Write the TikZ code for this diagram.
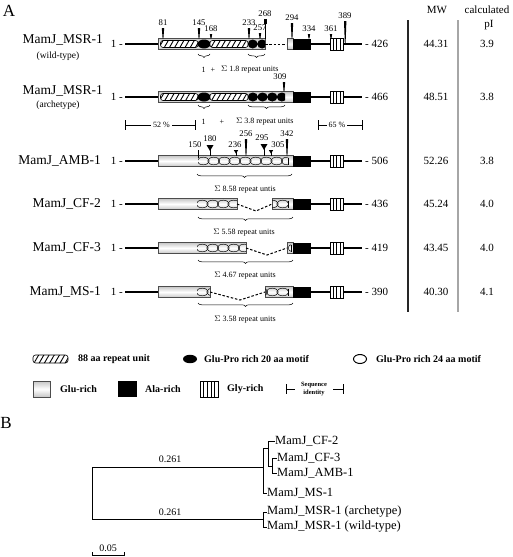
\documentclass[tikz,border=0pt]{standalone}
\usepackage{fontspec}
\setmainfont{Liberation Serif}
\usetikzlibrary{patterns.meta,decorations.pathreplacing}

\tikzset{
  gluseg/.style={draw=gray!60!black,line width=0.8pt,top color=gray!45,bottom color=gray!45,middle color=white},
  repunit/.style={draw=black,line width=0.6pt,rounded corners=2.5pt,preaction={fill=white},
    pattern={Lines[angle=60,distance=4.5pt,line width=0.9pt]}},
  emot/.style={draw=black,line width=0.5pt},
  gapline/.style={line width=1pt,dash pattern=on 2.5pt off 1.8pt},
  backbone/.style={line width=1.8pt},
  rbrace/.style={decorate,decoration={brace,mirror,amplitude=3.5pt},line width=0.5pt},
  tick/.style={font=\fontsize{8.7}{8.7}\selectfont,inner sep=0pt},
  pname/.style={font=\fontsize{13.5}{14}\selectfont,inner sep=0pt,anchor=east},
  psub/.style={font=\fontsize{9.5}{10}\selectfont,inner sep=0pt},
  val/.style={font=\fontsize{11}{11}\selectfont,inner sep=0pt},
  btext/.style={font=\fontsize{8}{8}\selectfont,inner sep=0pt},
  legtext/.style={font=\bfseries\fontsize{10}{10}\selectfont,inner sep=0pt,anchor=west},
  leaf/.style={font=\fontsize{12.5}{12.5}\selectfont,inner sep=0pt,anchor=west},
  tree/.style={line width=0.8pt},
  panel/.style={font=\fontsize{17}{17}\selectfont,inner sep=0pt}
}

\begin{document}
\begin{tikzpicture}[x=1pt,y=-1pt]
  \useasboundingbox (0,0) rectangle (512,557);

  % panel letters
  \node[panel] (pA) at (9,11) {A};
  \node[panel] (pB) at (6,423) {B};

  % protein names
  \node[pname] (n1) at (103,40) {MamJ\_MSR-1};
  \node[psub] (s1) at (58,56) {(wild-type)};
  \node[pname] (n2) at (103,91) {MamJ\_MSR-1};
  \node[psub] (s2) at (58,105) {(archetype)};
  \node[pname] (n3) at (101,161) {MamJ\_AMB-1};
  \node[pname] (n4) at (101,204) {MamJ\_CF-2};
  \node[pname] (n5) at (101,248) {MamJ\_CF-3};
  \node[pname] (n6) at (101,292) {MamJ\_MS-1};

  % MamJ_MSR-1 wild-type
  \draw[gluseg] (158,38.5) rectangle (265,49.5);
  \draw[repunit] (160.5,40.5) rectangle (198,47.5);
  \fill (204,44) ellipse (6.5 and 4.5);
  \draw[repunit] (210,40.5) rectangle (248,47.5);
  \begin{scope}
    \clip (248,39) rectangle (265,49);
    \foreach \i in {0,1} \fill (252.7+9.4*\i,44) ellipse (5 and 4.5);
  \end{scope}
  \draw[gapline] (265,44) -- (287,44);
  \draw[gluseg] (287,38.5) rectangle (293,49.5);
  \foreach \x/\t/\l [count=\k] in {163/28/81, 199/28/145, 211/34/168, 249/28/233, 260/33/257, 292/23/294, 309/34/334, 331/34/361}
  {
    \fill (\x-1.2,\t) -- (\x+1.2,\t) -- (\x+0.4,38.5) -- (\x-0.4,38.5) -- cycle;
    \node[tick] (wt\k) at (\x,\t-5) {\l};
  }
  \fill (344,21) -- (346.4,21) -- (345.6,43) -- (344.8,43) -- cycle;
  \node[tick] (wt389) at (345,16) {389};
  \fill (263.8,19) rectangle (266.6,24);
  \draw[line width=0.5pt] (265.2,24) -- (265.2,38.5);
  \node[tick] (wt268) at (265,13.5) {268};
  \draw[rbrace] (198,54) -- (210,54);
  \draw[rbrace] (248,54) -- (265,54);
  \node[btext] (u1a) at (203.5,70) {1};
  \node[btext] (u1b) at (213,70) {+};
  \node[btext,anchor=west] (u1c) at (221,70) {$\Sigma$ 1.8 repeat units};

  % MamJ_MSR-1 archetype
  \draw[gluseg] (158,91.5) rectangle (293,102.5);
  \draw[repunit] (160.5,93.5) rectangle (198,100.5);
  \fill (204,97) ellipse (6.5 and 4.5);
  \draw[repunit] (210,93.5) rectangle (248,100.5);
  \begin{scope}
    \clip (248,92) rectangle (285,102);
    \foreach \i in {0,...,3} \fill (252.85+9.7*\i,97) ellipse (5.2 and 4.5);
  \end{scope}
  \fill (282.8,82) -- (285.2,82) -- (284.4,91.5) -- (283.6,91.5) -- cycle;
  \node[tick] (ar309) at (280,77) {309};
  \draw[rbrace] (198,105) -- (210,105);
  \draw[rbrace] (248,105) -- (285,105);
  \node[btext] (u2a) at (203.5,122) {1};
  \node[btext] (u2b) at (222,122) {+};
  \node[btext,anchor=west] (u2c) at (236,122) {$\Sigma$ 3.8 repeat units};

  % sequence identity
  \draw[line width=0.6pt] (125,120) -- (125,130);
  \draw[line width=0.6pt] (125,125) -- (151,125);
  \node[btext] (id52) at (161.5,125) {52 \%};
  \draw[line width=0.6pt] (172,125) -- (195,125);
  \draw[line width=0.6pt] (195,120) -- (195,130);
  \draw[line width=0.6pt] (318,120) -- (318,130);
  \draw[line width=0.6pt] (318,125) -- (327,125);
  \node[btext] (id65) at (337,125) {65 \%};
  \draw[line width=0.6pt] (347,125) -- (362,125);
  \draw[line width=0.6pt] (362,120) -- (362,130);

  % MamJ_AMB-1
  \draw[gluseg] (158,155.5) rectangle (293,166.5);
  \begin{scope}
    \clip (198,156) rectangle (288,166);
    \foreach \i in {0,...,8} \draw[emot] (203.25+10.5*\i,161) ellipse (6 and 3.8);
  \end{scope}
  \draw[emot] (288,157.5) -- (288,164.5);
  \foreach \x/\t/\l [count=\k] in {246/139/256, 287/139/342}
  {
    \fill (\x-1.2,\t) -- (\x+1.2,\t) -- (\x+0.4,155.5) -- (\x-0.4,155.5) -- cycle;
    \node[tick] (amb\k) at (\x,\t-5) {\l};
  }
  \draw[line width=0.8pt] (198,150) -- (198,158);
  \node[tick] (amb150) at (195,145) {150};
  \foreach \x/\t/\w/\l/\lx/\ly [count=\k] in {210/145/3.5/180/210/139, 264/144/3.5/295/262/137.5, 236/150/2.2/236/235/145, 271/150/2.2/305/278/144.5}
  {
    \fill (\x-\w,\t) -- (\x+\w,\t) -- (\x,\t+1.7*\w) -- cycle;
    \draw[line width=0.5pt] (\x,\t) -- (\x,155.5);
    \node[tick] (tri\k) at (\lx,\ly) {\l};
  }
  \draw[rbrace] (197,174) -- (292,174);
  \node[btext] (u3) at (245,190) {$\Sigma$ 8.58 repeat untis};

  % MamJ_CF-2
  \draw[gluseg] (158,198.5) rectangle (237,209.5);
  \begin{scope}
    \clip (197,199) rectangle (237,209);
    \foreach \i in {0,...,3} \draw[emot] (202.25+10.5*\i,204) ellipse (6 and 3.8);
  \end{scope}
  \draw[gapline] (237,204) -- (256,211) -- (272,204);
  \draw[gluseg] (272,198.5) rectangle (293,209.5);
  \begin{scope}
    \clip (272,199) rectangle (288,209);
    \foreach \i in {0,1} \draw[emot] (282.75-10.5*\i,204) ellipse (6 and 3.8);
  \end{scope}
  \draw[emot] (288,200.5) -- (288,207.5);
  \draw[rbrace] (198,217) -- (293,217);
  \node[btext] (u4) at (244,233) {$\Sigma$ 5.58 repeat units};

  % MamJ_CF-3
  \draw[gluseg] (158,242.5) rectangle (246,253.5);
  \begin{scope}
    \clip (197,243) rectangle (246,253);
    \foreach \i in {0,...,4} \draw[emot] (202.25+10.5*\i,248) ellipse (6 and 3.8);
  \end{scope}
  \draw[gapline] (246,248) -- (267,255) -- (287,248);
  \draw[gluseg] (287,242.5) rectangle (293,253.5);
  \begin{scope}
    \clip (287,243) rectangle (291,253);
    \draw[emot] (293,248) ellipse (5 and 3.8);
  \end{scope}
  \draw[emot] (291,244.5) -- (291,251.5);
  \draw[rbrace] (198,260) -- (293,260);
  \node[btext] (u5) at (245,276) {$\Sigma$ 4.67 repeat units};

  % MamJ_MS-1
  \draw[gluseg] (158,286.5) rectangle (210,297.5);
  \begin{scope}
    \clip (197,287) rectangle (210,297);
    \foreach \i in {0,1} \draw[emot] (202.25+10.5*\i,292) ellipse (6 and 3.8);
  \end{scope}
  \draw[gapline] (210,292) -- (240,300) -- (265,292);
  \draw[gluseg] (265,286.5) rectangle (293,297.5);
  \begin{scope}
    \clip (265,287) rectangle (288,297);
    \foreach \i in {0,1,2} \draw[emot] (282.75-10.5*\i,292) ellipse (6 and 3.8);
  \end{scope}
  \draw[emot] (288,288.5) -- (288,295.5);
  \draw[rbrace] (198,303) -- (293,303);
  \node[btext] (u6) at (245,320) {$\Sigma$ 3.58 repeat units};

  % C-terminal part, lengths
  \foreach \y/\len [count=\r] in {44/426, 97/466, 161/506, 204/436, 248/419, 292/390}
  {
    \draw[backbone] (125,\y) -- (158,\y);
    \draw[backbone] (311,\y) -- (362,\y);
    \fill (293,\y-5.5) rectangle (311,\y+5.5);
    \draw[line width=0.6pt,fill=white] (330,\y-6) rectangle (343,\y+6);
    \foreach \g in {333.25,336.5,339.75} \draw[line width=0.5pt] (\g,\y-6) -- (\g,\y+6);
    \node[val,anchor=east] (one\r) at (123,\y) {1 -};
    \node[val,anchor=west] (len\r) at (365,\y) {- \len};
  }

  % table MW / pI
  \draw[line width=1.5pt,black!85] (408,20) -- (408,312);
  \draw[line width=1.5pt,gray!70] (458,20) -- (458,312);
  \node[val] (hmw) at (437,10) {MW};
  \node[val] (hcalc) at (487,10) {calculated};
  \node[val] (hpi) at (489,25) {pI};
  \foreach \y/\mw/\pe [count=\r] in {44/44.31/3.9, 97/48.51/3.8, 161/52.26/3.8, 204/45.24/4.0, 248/43.45/4.0, 292/40.30/4.1}
  {
    \node[val] (mw\r) at (436,\y) {\mw};
    \node[val] (pe\r) at (487,\y) {\pe};
  }

  % legend
  \draw[repunit] (33,355) rectangle (68,363);
  \node[legtext] (lrep) at (78,359) {88 aa repeat unit};
  \fill (190,359) ellipse (7 and 4.2);
  \node[legtext] (lp20) at (204,359) {Glu-Pro rich 20 aa motif};
  \draw[line width=1pt] (360,359) ellipse (6.5 and 4.5);
  \node[legtext] (lp24) at (376,359) {Glu-Pro rich 24 aa motif};
  \draw[gluseg] (33,381) rectangle (50,397);
  \node[legtext] (lglu) at (60,389) {Glu-rich};
  \fill (118,381) rectangle (137,397);
  \node[legtext] (lala) at (145,389) {Ala-rich};
  \draw[line width=0.6pt] (200,381) rectangle (218,397);
  \foreach \g in {203.6,207.2,210.8,214.4} \draw[line width=0.5pt] (\g,381) -- (\g,397);
  \node[legtext] (lgly) at (227,389) {Gly-rich};
  \draw[line width=0.6pt] (286,384) -- (286,394);
  \draw[line width=0.6pt] (286,389) -- (295,389);
  \node[font=\bfseries\fontsize{6.5}{7.5}\selectfont,align=center,inner sep=0pt] (lsi) at (314,389) {Sequence\\identity};
  \draw[line width=0.6pt] (333,389) -- (343,389);
  \draw[line width=0.6pt] (343,384) -- (343,394);

  % tree
  \coordinate (root) at (92,493);
  \coordinate (up) at (263,467);
  \coordinate (lo) at (263,519);
  \coordinate (c2) at (268,448);
  \coordinate (c3) at (272,466);
  \node[leaf] (tcf2) at (275,441) {MamJ\_CF-2};
  \node[leaf] (tcf3) at (277,458) {MamJ\_CF-3};
  \node[leaf] (tamb) at (277,473) {MamJ\_AMB-1};
  \node[leaf] (tms) at (267,493) {MamJ\_MS-1};
  \node[leaf] (tarc) at (267,512) {MamJ\_MSR-1 (archetype)};
  \node[leaf] (twt) at (267,527) {MamJ\_MSR-1 (wild-type)};
  \draw[tree] (92,467) -- (up);
  \draw[tree] (92,467) -- (92,519) -- (lo);
  \draw[tree] (263,448) -- (263,493) -- (tms.west);
  \draw[tree] (263,448) -- (c2);
  \draw[tree] (268,441) -- (268,466) -- (c3);
  \draw[tree] (268,441) -- (tcf2.west);
  \draw[tree] (272,458) -- (272,473);
  \draw[tree] (272,458) -- (tcf3.west);
  \draw[tree] (272,473) -- (tamb.west);
  \draw[tree] (263,512) -- (263,527);
  \draw[tree] (263,512) -- (tarc.west);
  \draw[tree] (263,527) -- (twt.west);
  \node[val,font=\fontsize{10}{10}\selectfont] (b1) at (170,459) {0.261};
  \node[val,font=\fontsize{10}{10}\selectfont] (b2) at (170,512) {0.261};
  % scale bar
  \draw[tree] (92,552) -- (92,555) -- (124,555) -- (124,552);
  \node[val,font=\fontsize{10}{10}\selectfont] (sc) at (108,548) {0.05};
\end{tikzpicture}
\end{document}
